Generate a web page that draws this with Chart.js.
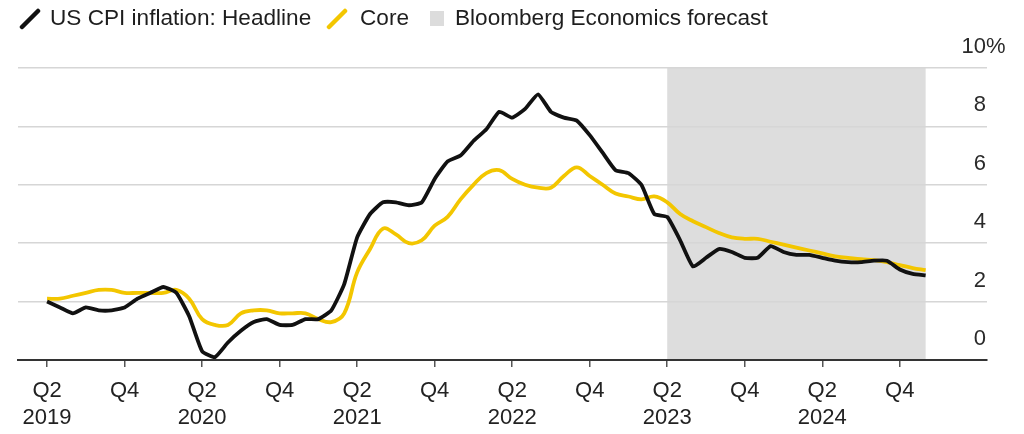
<!DOCTYPE html>
<html>
<head>
<meta charset="utf-8">
<script src="https://cdn.jsdelivr.net/npm/chart.js@4.4.1/dist/chart.umd.min.js"></script>
<style>
  html, body { margin: 0; padding: 0; background: #fff; }
  #wrap { position: relative; width: 1024px; height: 434px; font-family: "Liberation Sans", Arial, sans-serif; }
  #cpi { position: absolute; left: 0; top: 0; }
  .key { position: absolute; top: 5px; font-size: 22.6px; line-height: 26px; color: #1e1e1e; white-space: nowrap; }
  .swatch { position: absolute; }
</style>
</head>
<body>
<div id="wrap">
  <canvas id="cpi" width="1024" height="434"></canvas>
  <svg class="swatch" style="left:19px;top:8px" width="22" height="22"><line x1="3" y1="19" x2="19" y2="3" stroke="#111" stroke-width="4.5" stroke-linecap="round"/></svg>
  <span class="key" style="left:50px">US CPI inflation: Headline</span>
  <svg class="swatch" style="left:326px;top:8px" width="22" height="22"><line x1="3" y1="19" x2="19" y2="3" stroke="#f3c600" stroke-width="4.5" stroke-linecap="round"/></svg>
  <span class="key" style="left:360px">Core</span>
  <div class="swatch" style="left:430px;top:11px;width:14px;height:15px;background:#dcdcdc"></div>
  <span class="key" style="left:455px">Bloomberg Economics forecast</span>
</div>
<script>
// monthly, April 2019 to December 2024
const months = [
  '2019-04','2019-05','2019-06','2019-07','2019-08','2019-09','2019-10','2019-11','2019-12',
  '2020-01','2020-02','2020-03','2020-04','2020-05','2020-06','2020-07','2020-08','2020-09','2020-10','2020-11','2020-12',
  '2021-01','2021-02','2021-03','2021-04','2021-05','2021-06','2021-07','2021-08','2021-09','2021-10','2021-11','2021-12',
  '2022-01','2022-02','2022-03','2022-04','2022-05','2022-06','2022-07','2022-08','2022-09','2022-10','2022-11','2022-12',
  '2023-01','2023-02','2023-03','2023-04','2023-05','2023-06','2023-07','2023-08','2023-09','2023-10','2023-11','2023-12',
  '2024-01','2024-02','2024-03','2024-04','2024-05','2024-06','2024-07','2024-08','2024-09','2024-10','2024-11','2024-12'
];

// year-over-year %, actuals through April 2023 then forecast
const headline = [
  2.0, 1.8, 1.6, 1.8, 1.7, 1.7, 1.8, 2.1, 2.3,
  2.5, 2.3, 1.5, 0.3, 0.1, 0.6, 1.0, 1.3, 1.4, 1.2, 1.2, 1.4,
  1.4, 1.7, 2.6, 4.2, 5.0, 5.4, 5.4, 5.3, 5.4, 6.2, 6.8, 7.0,
  7.5, 7.9, 8.5, 8.3, 8.6, 9.1, 8.5, 8.3, 8.2, 7.7, 7.1, 6.5,
  6.4, 6.0, 5.0, 4.9, 4.1, 3.2, 3.5, 3.8, 3.7, 3.5, 3.5, 3.9,
  3.7, 3.6, 3.6, 3.5, 3.4, 3.35, 3.35, 3.4, 3.4, 3.1, 2.95, 2.9
];

const core = [
  2.1, 2.1, 2.2, 2.3, 2.4, 2.4, 2.3, 2.3, 2.3,
  2.3, 2.4, 2.1, 1.4, 1.2, 1.2, 1.6, 1.7, 1.7, 1.6, 1.6, 1.6,
  1.4, 1.3, 1.6, 3.0, 3.8, 4.5, 4.3, 4.0, 4.1, 4.6, 4.9, 5.5,
  6.0, 6.4, 6.5, 6.2, 6.0, 5.9, 5.9, 6.3, 6.6, 6.3, 6.0, 5.7,
  5.6, 5.5, 5.6, 5.4, 5.0, 4.75, 4.55, 4.35, 4.2, 4.15, 4.15, 4.05,
  3.95, 3.85, 3.75, 3.65, 3.55, 3.5, 3.45, 3.42, 3.35, 3.25, 3.15, 3.08
];

// x-axis ticks (month index) and their labels
const tickMonths = [0, 6, 12, 18, 24, 30, 36, 42, 48, 54, 60, 66];
const tickLabels = [
  ['Q2', '2019'], 'Q4', ['Q2', '2020'], 'Q4', ['Q2', '2021'], 'Q4',
  ['Q2', '2022'], 'Q4', ['Q2', '2023'], 'Q4', ['Q2', '2024'], 'Q4'
];

const yTicks = [0, 2, 4, 6, 8, 10];

// forecast window, as month indexes
const forecastStart = months.indexOf('2023-04');
const forecastEnd = months.indexOf('2024-12');

const forecastShade = {
  id: 'forecastShade',
  beforeDraw(chart) {
    const { ctx, chartArea, scales } = chart;
    const x0 = scales.x.getPixelForValue(forecastStart);
    const x1 = scales.x.getPixelForValue(forecastEnd);
    ctx.save();
    ctx.fillStyle = '#dddddd';
    ctx.fillRect(x0, chartArea.top, x1 - x0, chartArea.bottom - chartArea.top);
    ctx.restore();
  }
};

// value labels sit just above each gridline at the right edge
const yLabels = {
  id: 'yLabels',
  afterDraw(chart) {
    const { ctx, chartArea, scales } = chart;
    ctx.save();
    ctx.font = '22px "Liberation Sans", Arial, sans-serif';
    ctx.fillStyle = '#2a2a2a';
    ctx.textBaseline = 'middle';
    const right = chartArea.right - 1;
    yTicks.forEach(v => {
      const y = scales.y.getPixelForValue(v) - 21;
      ctx.textAlign = 'right';
      ctx.fillText(String(v), right, y);
      if (v === yTicks[yTicks.length - 1]) {
        ctx.textAlign = 'left';
        ctx.fillText('%', right, y);
      }
    });
    ctx.restore();
  }
};

new Chart(document.getElementById('cpi'), {
  type: 'line',
  data: {
    datasets: [{
      label: 'US CPI inflation: Headline',
      data: headline.map((v, i) => ({ x: i, y: v })),
      borderColor: '#111111',
      borderWidth: 3.8,
      tension: 0.15,
      pointRadius: 0,
      borderJoinStyle: 'round'
    }, {
      label: 'Core',
      data: core.map((v, i) => ({ x: i, y: v })),
      borderColor: '#f3c600',
      borderWidth: 3.8,
      tension: 0.4,
      pointRadius: 0,
      borderJoinStyle: 'round'
    }]
  },
  options: {
    responsive: false,
    animation: false,
    devicePixelRatio: 1,
    layout: { padding: { left: 18, right: 37, top: 68, bottom: 0 } },
    plugins: {
      legend: { display: false },
      tooltip: { enabled: false }
    },
    scales: {
      x: {
        type: 'linear',
        min: -2.25,
        max: 72.75,
        afterBuildTicks: scale => { scale.ticks = tickMonths.map(v => ({ value: v })); },
        afterFit: scale => { scale.height = 74; },
        grid: {
          drawOnChartArea: false,
          drawTicks: true,
          tickLength: 7,
          color: '#555555',
          lineWidth: 1.5
        },
        border: { display: true, color: '#333333', width: 2 },
        ticks: {
          autoSkip: false,
          maxRotation: 0,
          padding: 10,
          color: '#222222',
          font: { family: '"Liberation Sans", Arial, sans-serif', size: 22, lineHeight: 1.23 },
          callback: value => tickLabels[tickMonths.indexOf(value)]
        }
      },
      y: {
        position: 'right',
        min: 0,
        max: 10,
        ticks: { display: false, stepSize: 2 },
        border: { display: false },
        grid: {
          drawTicks: false,
          lineWidth: 1.5,
          color: c => (c.tick && c.tick.value === 0 ? 'rgba(0,0,0,0)' : '#d6d6d6')
        }
      }
    }
  },
  plugins: [forecastShade, yLabels]
});
</script>
</body>
</html>
